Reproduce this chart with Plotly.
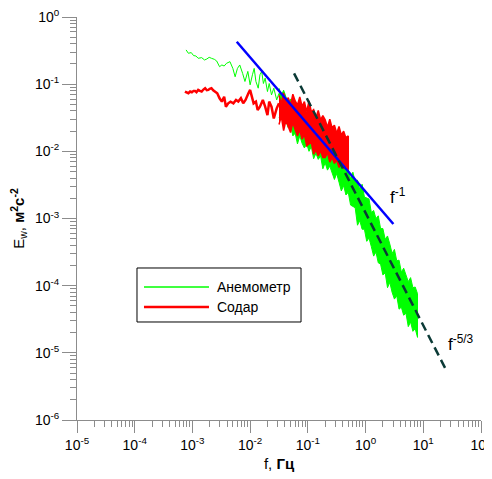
import numpy as np
import plotly.graph_objects as go

# ---------------- data (log10 values) ----------------
# Anemometer spectrum, low-frequency part: log10 f [Hz], log10 E_w [m2 s-2]
anem_lf_log_f = [-3.11, -3.07, -3.02, -2.98, -2.94, -2.90, -2.84, -2.79, -2.75, -2.71, -2.67,
                 -2.62, -2.58, -2.53, -2.49, -2.45, -2.41, -2.35, -2.30, -2.26, -2.22, -2.18,
                 -2.13, -2.09, -2.04, -2.00, -1.96, -1.93, -1.90, -1.86, -1.83, -1.80, -1.77,
                 -1.74, -1.70, -1.67, -1.63, -1.59, -1.54, -1.50]
anem_lf_log_E = [-0.49, -0.54, -0.53, -0.575, -0.58, -0.615, -0.605, -0.64, -0.625, -0.60, -0.615,
                 -0.63, -0.655, -0.74, -0.714, -0.73, -0.69, -0.665, -0.765, -0.89, -0.765, -0.714,
                 -0.84, -0.96, -0.81, -1.01, -0.86, -0.765, -0.96, -1.06, -0.86, -0.81, -0.99,
                 -0.91, -1.11, -0.99, -1.16, -1.06, -1.235, -1.135]

# Anemometer spectrum, dense high-frequency part: upper / lower edges of the noisy band
anem_band_log_f = [-1.50, -1.46, -1.42, -1.38, -1.34, -1.30, -1.26, -1.22, -1.18, -1.14, -1.10,
                   -1.06, -1.02, -0.98, -0.94, -0.90, -0.86, -0.82, -0.78, -0.74, -0.70, -0.66,
                   -0.62, -0.58, -0.54, -0.50, -0.46, -0.42, -0.38, -0.34, -0.30, -0.26, -0.22,
                   -0.18, -0.14, -0.10, -0.06, -0.02, 0.02, 0.06, 0.10, 0.14, 0.18, 0.22, 0.26,
                   0.30, 0.34, 0.38, 0.42, 0.46, 0.50, 0.54, 0.58, 0.62, 0.66, 0.70, 0.74, 0.78,
                   0.82, 0.86, 0.90]
anem_band_upper_log_E = [-1.06, -1.17, -1.09, -1.21, -1.29, -1.22, -1.34, -1.26, -1.44, -1.41, -1.54,
                         -1.47, -1.44, -1.63, -1.62, -1.73, -1.65, -1.78, -1.76, -1.90, -1.79, -1.92,
                         -2.01, -1.96, -2.09, -1.99, -2.19, -2.16, -2.16, -2.30, -2.27, -2.41, -2.31,
                         -2.45, -2.43, -2.57, -2.49, -2.68, -2.70, -2.71, -2.91, -2.88, -3.00, -2.96,
                         -3.15, -3.15, -3.31, -3.26, -3.38, -3.52, -3.46, -3.63, -3.62, -3.80, -3.74,
                         -3.83, -3.94, -3.88, -4.03, -4.02, -4.12]
anem_band_lower_log_E = [-1.50, -1.46, -1.63, -1.55, -1.65, -1.60, -1.77, -1.73, -1.89, -1.77, -1.88,
                         -1.95, -1.89, -2.00, -1.93, -2.11, -2.03, -2.12, -2.07, -2.26, -2.17, -2.28,
                         -2.22, -2.33, -2.42, -2.33, -2.46, -2.59, -2.51, -2.65, -2.61, -2.80, -2.82,
                         -2.84, -3.10, -3.03, -3.16, -3.16, -3.34, -3.29, -3.42, -3.56, -3.50, -3.66,
                         -3.68, -3.84, -3.81, -4.03, -3.95, -4.10, -4.20, -4.15, -4.35, -4.32, -4.44,
                         -4.41, -4.61, -4.54, -4.68, -4.64, -4.77]

# Sodar spectrum, low-frequency part
sodar_lf_log_f = [-3.13, -3.10, -3.07, -3.04, -3.01, -2.98, -2.955, -2.93, -2.90, -2.87, -2.84,
                  -2.81, -2.78, -2.75, -2.725, -2.70, -2.67, -2.64, -2.61, -2.57, -2.53, -2.49,
                  -2.45, -2.42, -2.38, -2.34, -2.29, -2.245, -2.205, -2.16, -2.12, -2.08, -2.03,
                  -2.00, -1.97, -1.94, -1.90, -1.87, -1.83, -1.78, -1.74, -1.70, -1.67, -1.63,
                  -1.59, -1.54, -1.50]
sodar_lf_log_E = [-1.11, -1.12, -1.135, -1.11, -1.12, -1.10, -1.10, -1.12, -1.086, -1.10, -1.11,
                  -1.08, -1.06, -1.09, -1.086, -1.07, -1.06, -1.09, -1.11, -1.135, -1.21, -1.26,
                  -1.186, -1.335, -1.285, -1.26, -1.285, -1.235, -1.26, -1.21, -1.285, -1.235, -1.135,
                  -1.086, -1.186, -1.285, -1.26, -1.384, -1.335, -1.235, -1.335, -1.46, -1.26, -1.335,
                  -1.51, -1.36, -1.285]

# Sodar spectrum, dense part: upper / lower edges of the noisy band
sodar_band_log_f = [-1.50, -1.46, -1.42, -1.38, -1.34, -1.30, -1.26, -1.22, -1.18, -1.14, -1.10,
                    -1.06, -1.02, -0.98, -0.94, -0.90, -0.86, -0.82, -0.78, -0.74, -0.70, -0.66,
                    -0.62, -0.58, -0.54, -0.50, -0.46, -0.42, -0.38, -0.34, -0.30]
sodar_band_upper_log_E = [-1.17, -1.29, -1.13, -1.27, -1.20, -1.31, -1.15, -1.25, -1.31, -1.19, -1.33,
                          -1.26, -1.41, -1.25, -1.41, -1.38, -1.50, -1.39, -1.53, -1.47, -1.53, -1.64,
                          -1.52, -1.65, -1.61, -1.73, -1.63, -1.76, -1.70, -1.80, -1.77]
sodar_band_lower_log_E = [-1.60, -1.48, -1.69, -1.54, -1.64, -1.72, -1.57, -1.68, -1.77, -1.68, -1.82,
                          -1.75, -1.92, -1.89, -1.87, -2.04, -1.98, -2.07, -1.99, -2.09, -2.09, -2.02,
                          -2.16, -2.09, -2.18, -2.13, -2.24, -2.18, -2.25, -2.22, -2.27]

# reference slopes
slope1_f = [0.00586, 3.03]
slope1_E = [0.429, 0.00083]
slope53_f = [0.0577, 23.9]
slope53_E = [0.145, 5.94e-6]

# axis ticks
x_tick_vals = [1e-5, 1e-4, 1e-3, 1e-2, 1e-1, 1e0, 1e1, 1e2]
x_tick_text = ["10<sup>-5</sup>", "10<sup>-4</sup>", "10<sup>-3</sup>", "10<sup>-2</sup>",
               "10<sup>-1</sup>", "10<sup>0</sup>", "10<sup>1</sup>", "10<sup>2</sup>"]
y_tick_vals = [1e-6, 1e-5, 1e-4, 1e-3, 1e-2, 1e-1, 1e0]
y_tick_text = ["10<sup>-6</sup>", "10<sup>-5</sup>", "10<sup>-4</sup>", "10<sup>-3</sup>",
               "10<sup>-2</sup>", "10<sup>-1</sup>", "10<sup>0</sup>"]
minor_mult = [2, 3, 4, 5, 6, 7, 8, 9]

legend_names = ["Анемометр", "Содар"]

# ---------------- figure ----------------
GREEN = "#00ff00"
RED = "#ff0000"
BLUE = "#0000ff"
DARK = "#0b3a36"
FONT = "Liberation Sans, Arial, sans-serif"


def p10(a):
    return list(np.power(10.0, np.array(a)))


fig = go.Figure()

fig.add_trace(go.Scatter(x=p10(anem_lf_log_f), y=p10(anem_lf_log_E), mode="lines",
                         line=dict(color=GREEN, width=1), name=legend_names[0]))
bx = p10(anem_band_log_f)
fig.add_trace(go.Scatter(x=bx + bx[::-1],
                         y=p10(anem_band_upper_log_E) + p10(anem_band_lower_log_E)[::-1],
                         mode="lines", fill="toself", fillcolor=GREEN,
                         line=dict(color=GREEN, width=1), name=legend_names[0]))

fig.add_trace(go.Scatter(x=p10(sodar_lf_log_f), y=p10(sodar_lf_log_E), mode="lines",
                         line=dict(color=RED, width=2.5), name=legend_names[1]))
sx = p10(sodar_band_log_f)
fig.add_trace(go.Scatter(x=sx + sx[::-1],
                         y=p10(sodar_band_upper_log_E) + p10(sodar_band_lower_log_E)[::-1],
                         mode="lines", fill="toself", fillcolor=RED,
                         line=dict(color=RED, width=1.5), name=legend_names[1]))

fig.add_trace(go.Scatter(x=slope1_f, y=slope1_E, mode="lines",
                         line=dict(color=BLUE, width=2.5), name="f^-1"))
fig.add_trace(go.Scatter(x=slope53_f, y=slope53_E, mode="lines",
                         line=dict(color=DARK, width=2.5, dash="9px,5px"), name="f^-5/3"))

axis_common = dict(
    type="log", showgrid=False, zeroline=False, showline=True, linecolor="#8c8c8c",
    linewidth=1, ticks="outside", tickcolor="#8c8c8c", tickwidth=1, tickmode="array",
    tickfont=dict(family=FONT, size=14, color="#000000"), ticklabeloverflow="allow",
)

x_minor = [m * d for d in x_tick_vals[:-1] for m in minor_mult]
y_minor = [m * d for d in y_tick_vals[:-1] for m in minor_mult]

fig.update_xaxes(**axis_common, range=[-5, 2], tickvals=x_tick_vals, ticktext=x_tick_text,
                 ticklen=12,
                 minor=dict(tickmode="array", tickvals=x_minor, ticks="outside", ticklen=6,
                            tickcolor="#8c8c8c", tickwidth=1, showgrid=False),
                 title=dict(text="f, <b>Гц</b>", font=dict(family=FONT, size=15, color="#000000"),
                            standoff=6))
fig.update_yaxes(**axis_common, range=[-6, 0], tickvals=y_tick_vals, ticktext=y_tick_text,
                 ticklen=14,
                 minor=dict(tickmode="array", tickvals=y_minor, ticks="outside", ticklen=6,
                            tickcolor="#8c8c8c", tickwidth=1, showgrid=False),
                 title=dict(text="E<sub>w</sub>, <b>м<sup>2</sup>с<sup>-2</sup></b>",
                            font=dict(family=FONT, size=15, color="#000000"), standoff=7))

# manual legend box
lx0, lx1, ly0, ly1 = 0.1485, 0.5545, 0.2432, 0.3772
fig.add_shape(type="rect", xref="paper", yref="paper", x0=lx0, x1=lx1, y0=ly0, y1=ly1,
              line=dict(color="#000000", width=1), fillcolor="rgba(0,0,0,0)")
fig.add_shape(type="line", xref="paper", yref="paper", x0=0.1658, x1=0.3267, y0=0.330, y1=0.330,
              line=dict(color=GREEN, width=1.5))
fig.add_shape(type="line", xref="paper", yref="paper", x0=0.1658, x1=0.3267, y0=0.2804, y1=0.2804,
              line=dict(color=RED, width=2.5))
fig.add_annotation(xref="paper", yref="paper", x=0.3416, y=0.330, xanchor="left", yanchor="middle",
                   text=legend_names[0], showarrow=False,
                   font=dict(family=FONT, size=14, color="#000000"))
fig.add_annotation(xref="paper", yref="paper", x=0.3416, y=0.2804, xanchor="left", yanchor="middle",
                   text=legend_names[1], showarrow=False,
                   font=dict(family=FONT, size=14, color="#000000"))

# slope labels (log axes: annotation positions in decades)
fig.add_annotation(x=0.555, y=-2.66, text="f<sup>-1</sup>", showarrow=False,
                   font=dict(family=FONT, size=17, color="#000000"))
fig.add_annotation(x=1.66, y=-4.86, text="f<sup>-5/3</sup>", showarrow=False,
                   font=dict(family=FONT, size=17, color="#000000"))

# the page puts the figure 8 px in from the top-left corner
fig.update_layout(
    width=484, height=471, showlegend=False,
    margin=dict(l=69, r=11, t=9, b=59, autoexpand=False),
    paper_bgcolor="#ffffff", plot_bgcolor="#ffffff",
    font=dict(family=FONT, color="#000000"),
)

fig.write_html("out.html")
